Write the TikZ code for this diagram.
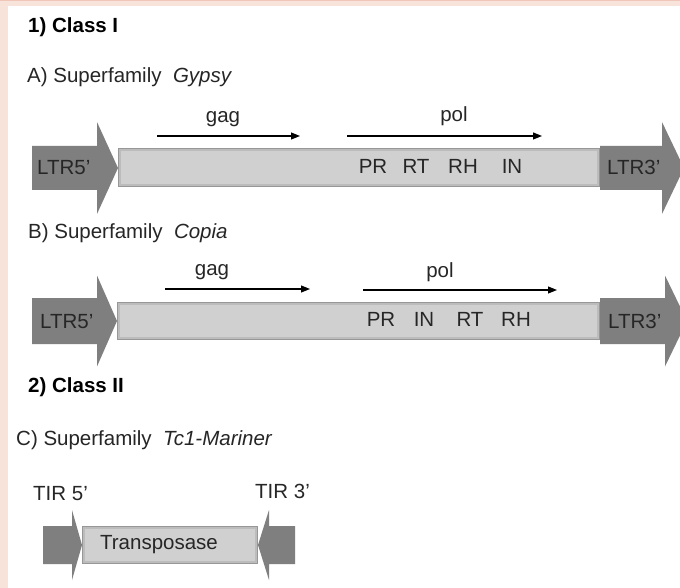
\documentclass[tikz,border=0pt]{standalone}
\usepackage{fontspec}
\setmainfont{Liberation Sans}
\usetikzlibrary{arrows.meta}
\definecolor{pinkbg}{HTML}{F8E3DA}
\definecolor{pinkline}{HTML}{F0C6BA}
\definecolor{ltrgray}{HTML}{7F7F7F}
\definecolor{barlight}{HTML}{D0D0D0}
\definecolor{barmid}{HTML}{BCBCBC}
\definecolor{bardark}{HTML}{979797}
\definecolor{txt}{HTML}{262626}
\tikzset{
  lbl/.style={font=\fontsize{20.5}{24}\selectfont, text=txt, inner sep=0pt, anchor=base},
  headtxt/.style={lbl, anchor=base west},
  boldtxt/.style={headtxt, font=\fontsize{20.5}{24}\selectfont\bfseries, text=black},
  gene/.style={-{Triangle[length=9pt,width=7pt]}, line width=1.1pt, black},
}
\newcommand{\genebar}[4]{%
  \fill[bardark] (#1,#2) rectangle (#3,#4);
  \fill[barmid] (#1+1.2,#2+1.2) rectangle (#3-1.2,#4-1.2);
  \fill[barlight] (#1+3,#2+3) rectangle (#3-3,#4-3);
}
% body x1, head base x2, tip x, center y, body half height, head half height
\newcommand{\ltrright}[6]{%
  \fill[ltrgray] (#1,#4-#5) -- (#2,#4-#5) -- (#2,#4-#6) -- (#3,#4) -- (#2,#4+#6) -- (#2,#4+#5) -- (#1,#4+#5) -- cycle;
}
\begin{document}
\begin{tikzpicture}[x=1pt,y=-1pt]
\clip (0,0) rectangle (680,588);
% background
\fill[white] (0,0) rectangle (680,588);
\fill[pinkbg] (0,0) rectangle (8,588);
\fill[pinkbg] (0,0) rectangle (680,6);
\fill[pinkline] (0,0) rectangle (680,1.2);

% ---------- Class I ----------
\node[boldtxt] (c1) at (28,33) {1) Class I};
\node[headtxt] (sa) at (27,83) {A) Superfamily\ \ \textit{Gypsy}};

% Gypsy element
\genebar{118}{148}{600}{187}
\ltrright{32}{97}{118}{168}{22}{46}
\ltrright{600}{662}{684}{168}{22}{46}
\node[headtxt] (l5a) at (37,175) {LTR5'};
\node[headtxt] (l3a) at (607,175) {LTR3'};
\node[lbl] (gag1) at (223,123) {gag};
\node[lbl] (pol1) at (454,122) {pol};
\coordinate (g1a) at (157,136); \coordinate (g1b) at (300,136);
\coordinate (p1a) at (347,136); \coordinate (p1b) at (542,136);
\draw[gene] (g1a) -- (g1b);
\draw[gene] (p1a) -- (p1b);
\node[lbl] (pr1) at (373,174) {PR};
\node[lbl] (rt1) at (416,174) {RT};
\node[lbl] (rh1) at (463,174) {RH};
\node[lbl] (in1) at (512,174) {IN};

% Copia element
\node[headtxt] (sb) at (28,238) {B) Superfamily\ \ \textit{Copia}};
\genebar{117}{302}{600}{340}
\ltrright{32}{97}{117}{321}{23}{45.5}
\ltrright{600}{665}{687}{321}{23}{45.5}
\node[headtxt] (l5b) at (40,328) {LTR5'};
\node[headtxt] (l3b) at (608,328) {LTR3'};
\node[lbl] (gag2) at (212,276) {gag};
\node[lbl] (pol2) at (440,277) {pol};
\coordinate (g2a) at (165,289); \coordinate (g2b) at (310,289);
\coordinate (p2a) at (363,290); \coordinate (p2b) at (557,290);
\draw[gene] (g2a) -- (g2b);
\draw[gene] (p2a) -- (p2b);
\node[lbl] (pr2) at (381,326) {PR};
\node[lbl] (in2) at (424,326) {IN};
\node[lbl] (rt2) at (470,326) {RT};
\node[lbl] (rh2) at (516,326) {RH};

% ---------- Class II ----------
\node[boldtxt] (c2) at (28,392) {2) Class II};
\node[headtxt] (sc) at (16,445) {C) Superfamily\ \ \textit{Tc1-Mariner}};
\node[headtxt] (t5) at (33,500) {TIR 5'};
\node[headtxt] (t3) at (255,498) {TIR 3'};
\genebar{82}{526}{258}{564}
\ltrright{43}{72}{82}{545}{19}{35}
\fill[ltrgray] (295,526) -- (269,526) -- (269,510) -- (258,545) -- (269,580) -- (269,564) -- (295,564) -- cycle;
\node[lbl] (tp) at (159,549) {Transposase};
\end{tikzpicture}
\end{document}
